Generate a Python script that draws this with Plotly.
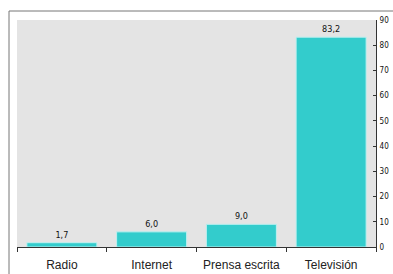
import plotly.graph_objects as go

categories = ["Radio", "Internet", "Prensa escrita", "Televisión"]
values = [1.7, 6.0, 9.0, 83.2]
y_ticks = [0, 10, 20, 30, 40, 50, 60, 70, 80, 90]

fig = go.Figure()
fig.add_trace(go.Bar(
    x=categories, y=values,
    marker=dict(color="#33CCCC", line=dict(color="#bff0f0", width=1)),
    width=0.78,
    texttemplate="%{y:.1f}",
    textposition="outside",
    textfont=dict(family="Liberation Sans Narrow, DejaVu Sans Condensed, Arial", size=9, color="#111"),
    cliponaxis=False,
))

fig.update_layout(
    width=393, height=274,
    margin=dict(l=17, r=17, t=20, b=27, autoexpand=False),
    paper_bgcolor="white",
    plot_bgcolor="#e4e4e4",
    separators=",.",
    showlegend=False,
    xaxis=dict(
        automargin=False,
        showline=True, linecolor="#333", linewidth=1,
        ticks="outside", ticklen=4, tickcolor="#333", tickson="boundaries",
        ticklabelstandoff=7,
        tickfont=dict(family="Liberation Sans, Arial", size=12, color="#222"),
        showgrid=False,
    ),
    yaxis=dict(
        automargin=False,
        side="right", range=[0, 90], tickvals=y_ticks,
        showline=True, linecolor="#333", linewidth=1,
        ticks="inside", ticklen=3, tickcolor="#333",
        ticklabelstandoff=1,
        tickfont=dict(family="Liberation Sans Narrow, DejaVu Sans Condensed, Arial", size=8, color="#111"),
        showgrid=False, zeroline=False,
    ),
    shapes=[dict(
        type="rect", xref="paper", yref="paper",
        x0=-8/359, x1=1.2, y0=-0.3, y1=1 + 9/227,
        line=dict(color="#777", width=1), fillcolor="rgba(0,0,0,0)", layer="below",
    )],
)

fig.write_html(
    "out.html",
    config={"displayModeBar": False},
    post_script="document.body.style.margin='0';document.body.style.overflow='hidden';",
)
